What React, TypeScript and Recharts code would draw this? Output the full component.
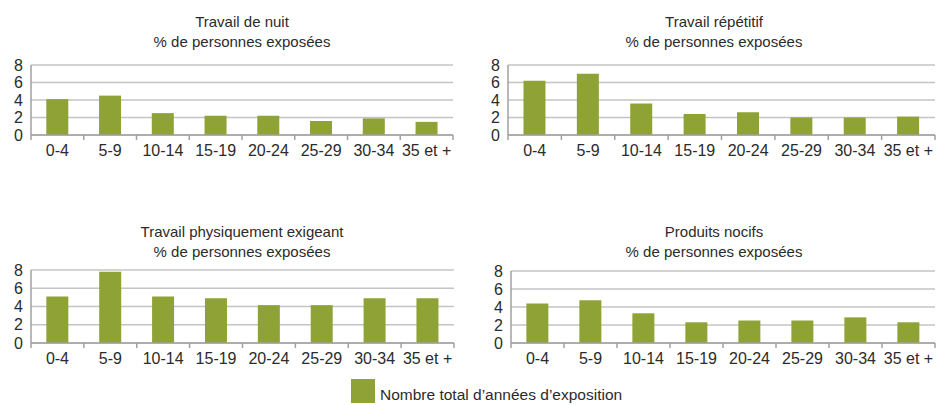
import React from "react";
import { BarChart, Bar, XAxis, YAxis, CartesianGrid } from "recharts";

const CATEGORIES = ["0-4", "5-9", "10-14", "15-19", "20-24", "25-29", "30-34", "35 et +"];
const Y_TICKS = [0, 2, 4, 6, 8];

const nightWork = [4.1, 4.5, 2.5, 2.2, 2.2, 1.6, 1.9, 1.5];
const repetitiveWork = [6.2, 7.0, 3.6, 2.4, 2.6, 2.0, 2.0, 2.1];
const physicalWork = [5.1, 7.8, 5.1, 4.9, 4.15, 4.15, 4.9, 4.9];
const harmfulProducts = [4.4, 4.75, 3.3, 2.3, 2.5, 2.5, 2.85, 2.3];

const SUBTITLE = "% de personnes exposées";
const LEGEND_LABEL = "Nombre total d’années d’exposition";

const BAR_COLOR = "#8ea236";
const GRID_COLOR = "#c4c4c4";
const AXIS_COLOR = "#a0a0a0";
const TEXT_COLOR = "#2b2b2b";
const FONT = "'Liberation Sans', Arial, sans-serif";

interface PanelProps {
  title: string;
  values: number[];
  left: number;
  titleTop: number;
  plotLeft: number;
  plotRight: number;
  plotTop: number;
  plotBottom: number;
}

function Panel({ title, values, left, titleTop, plotLeft, plotRight, plotTop, plotBottom }: PanelProps) {
  const data = CATEGORIES.map((c, i) => ({ cat: c, value: values[i] }));
  const width = 472;
  const marginTop = 10;
  const xAxisHeight = 35;
  const plotH = plotBottom - plotTop;
  const height = marginTop + plotH + xAxisHeight;
  const yAxisWidth = plotLeft - left;
  const marginRight = width - (plotRight - left);
  const band = (plotRight - plotLeft) / CATEGORIES.length;
  const axisY = marginTop + plotH;

  // label at band centre, tick mark on band boundaries
  const renderTick = (props: any) => {
    const { x, index, payload } = props;
    const bx = x - band / 2;
    return (
      <g>
        <line x1={bx} y1={axisY} x2={bx} y2={axisY + 5} stroke={AXIS_COLOR} strokeWidth={1.5} />
        {index === CATEGORIES.length - 1 && (
          <line x1={bx + band} y1={axisY} x2={bx + band} y2={axisY + 5} stroke={AXIS_COLOR} strokeWidth={1.5} />
        )}
        <text x={x} y={axisY + 21} textAnchor="middle" fontSize={16} fill={TEXT_COLOR} fontFamily={FONT}>
          {payload.value}
        </text>
      </g>
    );
  };

  return (
    <>
      <div
        style={{
          position: "absolute",
          left,
          top: titleTop,
          width: 484,
          textAlign: "center",
          fontFamily: FONT,
          fontSize: 15,
          lineHeight: "20px",
          color: TEXT_COLOR,
        }}
      >
        <div>{title}</div>
        <div>{SUBTITLE}</div>
      </div>
      <div style={{ position: "absolute", left, top: plotTop - marginTop }}>
        <BarChart
          width={width}
          height={height}
          data={data}
          margin={{ top: marginTop, right: marginRight, left: 0, bottom: 0 }}
          barCategoryGap="29%"
        >
          <CartesianGrid vertical={false} stroke={GRID_COLOR} strokeWidth={1.5} />
          <XAxis
            dataKey="cat"
            interval={0}
            height={xAxisHeight}
            tickLine={false}
            axisLine={{ stroke: AXIS_COLOR, strokeWidth: 1.5 }}
            tick={renderTick}
          />
          <YAxis
            domain={[0, 8]}
            ticks={Y_TICKS}
            interval={0}
            width={yAxisWidth}
            tickLine={false}
            axisLine={{ stroke: AXIS_COLOR, strokeWidth: 1.5 }}
            tick={{ fontSize: 16, fill: TEXT_COLOR, fontFamily: FONT }}
          />
          <Bar dataKey="value" fill={BAR_COLOR} isAnimationActive={false} />
        </BarChart>
      </div>
    </>
  );
}

export default function App() {
  return (
    <div style={{ position: "absolute", left: 0, top: 0, width: 944, height: 405, background: "#fff" }}>
      <Panel title="Travail de nuit" values={nightWork} left={0} titleTop={12}
        plotLeft={31} plotRight={453} plotTop={65} plotBottom={135} />
      <Panel title="Travail répétitif" values={repetitiveWork} left={472} titleTop={12}
        plotLeft={508} plotRight={935} plotTop={65} plotBottom={135} />
      <Panel title="Travail physiquement exigeant" values={physicalWork} left={0} titleTop={222}
        plotLeft={31} plotRight={454} plotTop={270} plotBottom={343} />
      <Panel title="Produits nocifs" values={harmfulProducts} left={472} titleTop={222}
        plotLeft={511} plotRight={935} plotTop={271} plotBottom={343} />
      <div style={{ position: "absolute", left: 351, top: 379, width: 24, height: 24, background: BAR_COLOR }} />
      <div
        style={{
          position: "absolute",
          left: 380,
          top: 385,
          fontFamily: FONT,
          fontSize: 15.5,
          lineHeight: "20px",
          color: TEXT_COLOR,
          whiteSpace: "nowrap",
        }}
      >
        {LEGEND_LABEL}
      </div>
    </div>
  );
}
